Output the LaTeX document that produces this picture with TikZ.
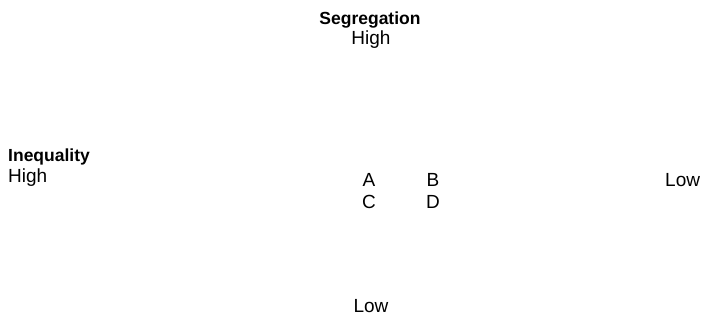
\documentclass[tikz,border=0pt]{standalone}
\usepackage{fontspec}
\setmainfont{Liberation Sans}
\begin{document}
\begin{tikzpicture}[x=1pt,y=-1pt,
  lbl/.style={inner sep=0pt,anchor=base,font=\fontsize{19}{22}\selectfont},
  head/.style={lbl,font=\fontsize{17.5}{21}\selectfont\bfseries}]
\useasboundingbox (0,0) rectangle (708,322);
% vertical axis: segregation
\node[head] (seg) at (370,24) {Segregation};
\node[lbl] (seghi) at (371,44) {High};
\node[lbl] (seglo) at (371,312) {Low};
% horizontal axis: inequality
\node[head,anchor=base west] (ineq) at (8,161) {Inequality};
\node[lbl,anchor=base west] (ineqhi) at (8,182) {High};
\node[lbl,anchor=base west] (ineqlo) at (665,186) {Low};
% quadrant letters
\node[lbl] (a) at (369,186) {A};
\node[lbl] (b) at (433,186) {B};
\node[lbl] (c) at (369,208) {C};
\node[lbl] (d) at (433,208) {D};
\end{tikzpicture}
\end{document}
